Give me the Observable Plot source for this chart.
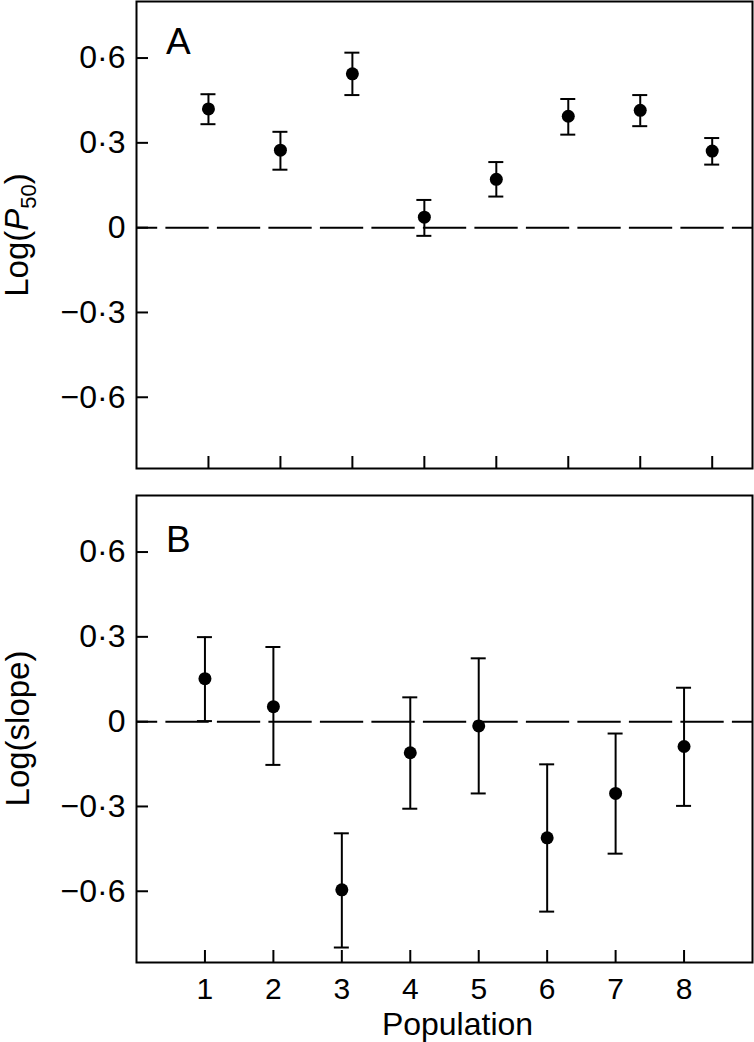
<!DOCTYPE html>
<html>
<head>
<meta charset="utf-8">
<script src="https://cdn.jsdelivr.net/npm/d3@7"></script>
<script src="https://cdn.jsdelivr.net/npm/@observablehq/plot@0.6"></script>
<style>
  html, body { margin: 0; padding: 0; background: #fff; }
  #chart svg { display: block; }
</style>
</head>
<body>
<div id="chart"></div>
<script>
// ---- data ----
const populations = [1, 2, 3, 4, 5, 6, 7, 8];
const yTicks = [-0.6, -0.3, 0, 0.3, 0.6];

// Panel A: Log(P50)
const p50Mean = [0.420, 0.274, 0.544, 0.037, 0.171, 0.394, 0.415, 0.271];
const p50Low  = [0.366, 0.205, 0.469, -0.029, 0.110, 0.329, 0.359, 0.223];
const p50High = [0.472, 0.339, 0.619, 0.098, 0.232, 0.455, 0.469, 0.317];

// Panel B: Log(slope)
const slopeMean = [0.152, 0.053, -0.595, -0.110, -0.015, -0.411, -0.254, -0.088];
const slopeLow  = [0.002, -0.153, -0.799, -0.308, -0.254, -0.672, -0.467, -0.298];
const slopeHigh = [0.299, 0.264, -0.395, 0.086, 0.224, -0.151, -0.042, 0.120];

const panelLetters = ["A", "B"];
const xLabel = "Population";

// ---- helpers ----
const FONT = "'Liberation Sans', Arial, Helvetica, sans-serif";
const fmt = d => d === 0 ? "0" : (d < 0 ? "\u2212" : "") + Math.abs(d).toFixed(1).replace(".", "\u00B7");

function rows(mean, low, high) {
  return populations.map((p, i) => ({pop: p, mean: mean[i], low: low[i], high: high[i]}));
}

function panel({data, xDomain, height, marginTop, marginBottom, letter, letterDy, showXLabels}) {
  const W = 754, mL = 136, mR = 2;
  const frameW = W - mL - mR;
  const frameH = height - marginTop - marginBottom;
  const marks = [
    Plot.axisY(yTicks, {tickSize: 0, tickPadding: 11, tickFormat: fmt, fontSize: 32}),
    showXLabels
      ? Plot.axisX(populations, {tickSize: 0, tickPadding: 15, tickFormat: d => String(d), fontSize: 30, label: null})
      : Plot.axisX([], {label: null}),
    Plot.tickY(yTicks, {y: d => d, insetRight: frameW - 12, strokeWidth: 2, stroke: "black"}),
    Plot.tickX(populations, {x: d => d, insetTop: frameH - 12, strokeWidth: 2, stroke: "black"}),
    Plot.ruleY([0], {strokeWidth: 2, stroke: "black", strokeDasharray: "43.3,8.2", strokeDashoffset: 22.1}),
    Plot.ruleX(data, {x: "pop", y1: "low", y2: "high", strokeWidth: 2, stroke: "black"}),
    Plot.ruleY(data, {x1: "pop", x2: "pop", y: "high", insetLeft: -7.5, insetRight: -7.5, strokeWidth: 2, stroke: "black"}),
    Plot.ruleY(data, {x1: "pop", x2: "pop", y: "low", insetLeft: -7.5, insetRight: -7.5, strokeWidth: 2, stroke: "black"}),
    Plot.dot(data, {x: "pop", y: "mean", r: 6.5, fill: "black"}),
    Plot.frame({strokeWidth: 2, stroke: "black"}),
    Plot.text([letter], {text: d => d, frameAnchor: "top-left", textAnchor: "start", lineAnchor: "bottom", dx: 29.5, dy: letterDy, fontSize: 37, fill: "black"})
  ];
  return Plot.plot({
    width: W, height, marginTop, marginBottom, marginLeft: mL, marginRight: mR,
    x: {domain: xDomain, axis: null},
    y: {domain: [-0.852, 0.8], axis: null},
    style: {fontFamily: FONT, fontSize: "32px", color: "black", background: "white", overflow: "visible"},
    marks
  });
}

function addYLabel(svgNode, cy, baselineX, parts) {
  const t = d3.select(svgNode).append("text")
    .attr("transform", `translate(${baselineX},${cy}) rotate(-90)`)
    .attr("text-anchor", "middle")
    .attr("fill", "black")
    .style("font-family", FONT)
    .style("font-size", "33px");
  parts(t);
}

const chartA = panel({
  data: rows(p50Mean, p50Low, p50High),
  xDomain: [0, 8.56], height: 490, marginTop: 1, marginBottom: 22,
  letter: panelLetters[0], letterDy: 52.3, showXLabels: false
});
const chartB = panel({
  data: rows(slopeMean, slopeLow, slopeHigh),
  xDomain: [0, 9], height: 552, marginTop: 5, marginBottom: 80,
  letter: panelLetters[1], letterDy: 56, showXLabels: true
});

addYLabel(chartA, 235, 28, t => {
  t.append("tspan").text("Log(");
  t.append("tspan").style("font-style", "italic").text("P");
  t.append("tspan").style("font-size", "22px").attr("dy", 8).text("50");
  t.append("tspan").attr("dy", -8).text(")");
});
addYLabel(chartB, 238.5, 29, t => {
  t.append("tspan").text("Log(slope)");
});

d3.select(chartB).append("text")
  .attr("x", 457.5).attr("y", 545)
  .attr("text-anchor", "middle")
  .attr("fill", "black")
  .style("font-family", FONT)
  .style("font-size", "32px")
  .text(xLabel);

document.getElementById("chart").append(chartA, chartB);
</script>
</body>
</html>
